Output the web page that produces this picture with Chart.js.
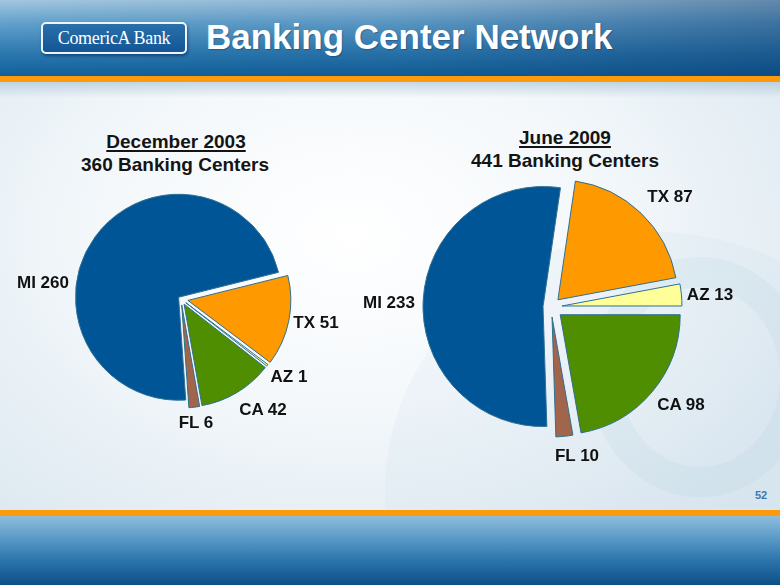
<!DOCTYPE html>
<html>
<head>
<meta charset="utf-8">
<script src="https://cdn.jsdelivr.net/npm/chart.js@4/dist/chart.umd.min.js"></script>
<style>
  html, body { margin: 0; padding: 0; }
  body { width: 780px; height: 585px; overflow: hidden; position: relative;
         font-family: Arial, "Liberation Sans", Helvetica, sans-serif; }
  #bodybg { position: absolute; left: 0; top: 0; width: 780px; height: 585px;
    background: radial-gradient(ellipse 70% 65% at 45% 40%, #ffffff 0%, #f4f8fb 45%, #dce8f0 100%); }
  #wm { position: absolute; left: 0; top: 82px; width: 780px; height: 428px; overflow: hidden; }
  .ring { position: absolute; border-radius: 50%; }
  #header { position: absolute; left: 0; top: 0; width: 780px; height: 76px;
    background:
      linear-gradient(to right, rgba(5,45,95,0) 0%, rgba(5,45,95,0.10) 50%, rgba(5,45,95,0.40) 100%),
      linear-gradient(to bottom, #a3c7e0 0%, #62a1cc 30%, #2b78af 70%, #12609b 100%); }
  #orangeTop { position: absolute; left: 0; top: 76px; width: 780px; height: 6px; background: #fd9a0c; }
  #shadowTop { position: absolute; left: 0; top: 82px; width: 780px; height: 16px;
    background: linear-gradient(to bottom, rgba(140,175,200,0.45), rgba(220,232,240,0)); }
  #orangeBot { position: absolute; left: 0; top: 510px; width: 780px; height: 6px; background: #fd9a0c; }
  #footer { position: absolute; left: 0; top: 516px; width: 780px; height: 69px;
    background: linear-gradient(to bottom, #8fbcdc 0%, #5e9dc9 30%, #2b74ab 65%, #0c4f86 100%); }
  #logo { position: absolute; left: 41px; top: 22px; width: 142px; height: 28px;
    border: 2px solid #eef4fa; border-radius: 5px;
    background: linear-gradient(to bottom, #2a70aa, #135596);
    box-shadow: 1px 2px 3px rgba(0,30,70,0.5);
    color: #ffffff; font-family: "Liberation Serif", "DejaVu Serif", serif; font-size: 18px;
    line-height: 28px; text-align: center; letter-spacing: -0.3px; }
  #title { position: absolute; left: 206px; top: 20px; color: #ffffff; font-weight: bold;
    font-size: 35px; line-height: 34px; white-space: nowrap;
    text-shadow: 1px 1px 1px rgba(0,40,80,0.35); }
  .ptitle { position: absolute; transform: translate(-50%, -50%); font-weight: bold;
    font-size: 19px; color: #141414; white-space: nowrap; line-height: 22px; }
  .u { text-decoration: underline; text-underline-offset: 2px; text-decoration-thickness: 2px; }
  .lbl { position: absolute; transform: translate(-50%, -50%); font-weight: bold;
    font-size: 17px; color: #111111; white-space: nowrap; line-height: 18px; }
  #page { position: absolute; left: 755px; top: 489px; font-size: 11px; font-weight: bold; color: #3b7bb3; }
  .pie { position: absolute; }
</style>
</head>
<body>
<div id="bodybg"></div>
<div id="wm">
  <div class="ring" style="left:385px; top:150px; width:540px; height:520px; background: rgba(170,200,220,0.09);"></div>
  <div class="ring" style="left:590px; top:175px; width:220px; height:240px; border: 30px solid rgba(165,198,218,0.13); box-sizing: border-box;"></div>
</div>
<div id="header"></div>
<div id="orangeTop"></div>
<div id="shadowTop"></div>
<div id="orangeBot"></div>
<div id="footer"></div>
<div id="logo">ComericA Bank</div>
<div id="title">Banking Center Network</div>
<div id="page">52</div>

<div id="t1a" class="ptitle u" style="left:176px; top:142px;"></div>
<div id="t1b" class="ptitle" style="left:175px; top:165px;"></div>
<div id="t2a" class="ptitle u" style="left:565px; top:138px;"></div>
<div id="t2b" class="ptitle" style="left:565px; top:161px;"></div>

<div class="pie" style="left:61px; top:179px; width:240px; height:240px;"><canvas id="pie1" width="240" height="240"></canvas></div>
<div class="pie" style="left:411px; top:167px; width:280px; height:280px;"><canvas id="pie2" width="280" height="280"></canvas></div>

<div id="labels"></div>

<script>
// ---- Data ----
const periods = ['December 2003', 'June 2009'];
const states2003 = ['MI', 'TX', 'AZ', 'CA', 'FL'];
const centers2003 = [260, 51, 1, 42, 6];
const states2009 = ['MI', 'TX', 'AZ', 'CA', 'FL'];
const centers2009 = [233, 87, 13, 98, 10];

// ---- Styles ----
const sliceColors = ['#005596', '#ff9900', '#ffff99', '#4f8e00', '#a0654a'];
const sum = a => a.reduce((s, v) => s + v, 0);

document.getElementById('t1a').textContent = periods[0];
document.getElementById('t1b').textContent = sum(centers2003) + ' Banking Centers';
document.getElementById('t2a').textContent = periods[1];
document.getElementById('t2b').textContent = sum(centers2009) + ' Banking Centers';

// label anchor positions (layout only)
const labelPos1 = [[43, 283], [316, 323], [289, 377], [263, 410], [196, 423]];
const labelPos2 = [[389, 303], [670, 197], [710, 295], [681, 405], [577, 456]];
const labelsDiv = document.getElementById('labels');
function addLabels(cats, vals, pos) {
  cats.forEach((c, i) => {
    const d = document.createElement('div');
    d.className = 'lbl';
    d.style.left = pos[i][0] + 'px';
    d.style.top = pos[i][1] + 'px';
    d.textContent = c + ' ' + vals[i];
    labelsDiv.appendChild(d);
  });
}
addLabels(states2003, centers2003, labelPos1);
addLabels(states2009, centers2009, labelPos2);

// explode plugin: shift each arc along its mid-angle without changing radius
const explodePlugin = {
  id: 'explode',
  afterDatasetsUpdate(chart, args, opts) {
    const meta = chart.getDatasetMeta(0);
    const d = opts.distances || [];
    meta.data.forEach((arc, i) => {
      const mid = (arc.startAngle + arc.endAngle) / 2;
      const t = d[i] || 0;
      arc.x += Math.cos(mid) * t;
      arc.y += Math.sin(mid) * t;
    });
  }
};

function makePie(id, cats, vals, rotation, radius, distances) {
  new Chart(document.getElementById(id), {
    type: 'pie',
    data: {
      labels: cats,
      datasets: [{
        data: vals,
        backgroundColor: sliceColors,
        borderColor: '#2e6f92',
        borderWidth: 1,
        hoverOffset: 0
      }]
    },
    options: {
      responsive: false,
      devicePixelRatio: 1,
      animation: false,
      events: [],
      rotation: rotation,
      radius: radius,
      layout: { padding: 0 },
      plugins: {
        legend: { display: false },
        tooltip: { enabled: false },
        title: { display: false },
        explode: { distances: distances }
      }
    },
    plugins: [explodePlugin]
  });
}

makePie('pie1', states2003, centers2003, 176, 103, [3, 7, 6, 6, 6]);
makePie('pie2', states2009, centers2009, 178.16, 120, [8, 10, 11, 12, 10]);
</script>
</body>
</html>
